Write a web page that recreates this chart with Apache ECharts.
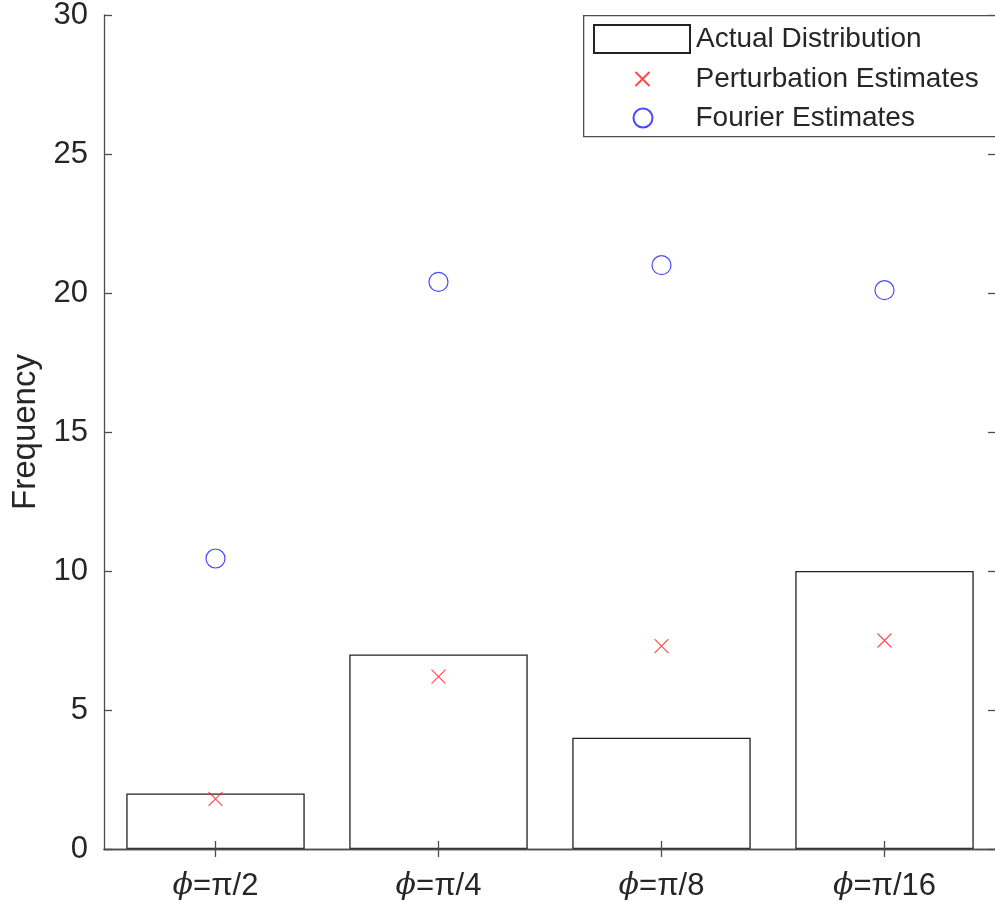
<!DOCTYPE html>
<html>
<head>
<meta charset="utf-8">
<script src="https://cdn.jsdelivr.net/npm/echarts@6/dist/echarts.min.js"></script>
<style>html,body{margin:0;padding:0;background:#fff}#c{width:995px;height:909px}</style>
</head>
<body>
<div id="c"></div>
<script>
var categories = ['π/2', 'π/4', 'π/8', 'π/16'];
var actualDistribution = [2, 7, 4, 10];
var perturbationEstimates = [1.8, 6.2, 7.3, 7.5];
var fourierEstimates = [10.45, 20.4, 21.0, 20.1];
var yTicks = {min: 0, max: 30, interval: 5};

var FONT = '"Liberation Sans", Arial, Helvetica, sans-serif';
var AX = '#4d4d4d';
var TXT = '#262626';
var crossPath = 'path://M0,0L10,10M10,0L0,10';

var chart = echarts.init(document.getElementById('c'));
var option = {
  backgroundColor: '#fff',
  animation: false,
  textStyle: {fontFamily: FONT},
  grid: {left: 104, top: 15, width: 892, height: 834, containLabel: false, outerBoundsMode: 'none'},
  xAxis: [{
    type: 'category', data: categories, position: 'bottom', boundaryGap: true, z: 5,
    axisLine: {show: true, lineStyle: {color: AX, width: 1.3}},
    axisTick: {show: true, interval: 0, inside: false, length: -8, alignWithLabel: true, lineStyle: {color: AX, width: 1.3}},
    axisLabel: {
      margin: 22, color: TXT, fontSize: 31, fontFamily: FONT,
      formatter: function (v) { return '{p|ϕ}=' + v; },
      rich: {p: {fontStyle: 'italic', fontFamily: '"DejaVu Serif", serif', fontSize: 30, color: TXT}}
    },
    splitLine: {show: false}
  }, {
    type: 'category', data: categories, position: 'top', boundaryGap: true, z: 5,
    axisLine: {show: true, lineStyle: {color: AX, width: 1.3}},
    axisTick: {show: true, interval: 0, inside: false, length: -8, alignWithLabel: true, lineStyle: {color: AX, width: 1.3}},
    axisLabel: {show: false}, splitLine: {show: false}
  }],
  yAxis: [{
    type: 'value', min: yTicks.min, max: yTicks.max, interval: yTicks.interval, position: 'left',
    name: 'Frequency', nameLocation: 'middle', nameGap: 61,
    nameTextStyle: {fontSize: 33, color: TXT, fontFamily: FONT},
    axisLine: {show: true, lineStyle: {color: AX, width: 1.3}},
    axisTick: {show: true, inside: true, length: 8, lineStyle: {color: AX, width: 1.3}},
    axisLabel: {margin: 16, color: TXT, fontSize: 31, fontFamily: FONT},
    splitLine: {show: false}
  }, {
    type: 'value', min: yTicks.min, max: yTicks.max, interval: yTicks.interval, position: 'right',
    axisLine: {show: true, lineStyle: {color: AX, width: 1.3}},
    axisTick: {show: true, inside: true, length: 8, lineStyle: {color: AX, width: 1.3}},
    axisLabel: {show: false}, splitLine: {show: false}
  }],
  legend: [{
    data: [{name: 'Actual Distribution', icon: 'rect'}], left: 593, top: 24, padding: 0, z: 10,
    itemWidth: 96, itemHeight: 28, selectedMode: false,
    textStyle: {fontSize: 28, color: TXT, fontFamily: FONT, padding: [0, 0, 0, 1]}
  }, {
    data: ['Perturbation Estimates'], left: 633, top: 65, padding: 0, z: 10,
    itemWidth: 14, itemHeight: 14, selectedMode: false,
    textStyle: {fontSize: 28, color: TXT, fontFamily: FONT, padding: [0, 0, 0, 41]}
  }, {
    data: ['Fourier Estimates'], left: 631, top: 104, padding: 0, z: 10,
    itemWidth: 19, itemHeight: 19, selectedMode: false,
    textStyle: {fontSize: 28, color: TXT, fontFamily: FONT, padding: [0, 0, 0, 38]}
  }],
  graphic: [{
    type: 'rect', left: 583, top: 15, z: 8,
    shape: {width: 420, height: 121},
    style: {fill: '#fff', stroke: AX, lineWidth: 1.3}
  }],
  series: [{
    name: 'Actual Distribution', type: 'bar', data: actualDistribution,
    barWidth: '80%', z: 2,
    itemStyle: {color: 'rgba(255,255,255,0)', borderColor: '#222', borderWidth: 1.3}
  }, {
    name: 'Perturbation Estimates', type: 'scatter', data: perturbationEstimates,
    symbol: crossPath, symbolSize: 14, z: 3,
    itemStyle: {color: 'none', borderColor: '#ff1a1a', borderWidth: 1.1}
  }, {
    name: 'Fourier Estimates', type: 'scatter', data: fourierEstimates,
    symbol: 'circle', symbolSize: 19, z: 3,
    itemStyle: {color: 'none', borderColor: '#1a1aff', borderWidth: 1.2}
  }]
};
chart.setOption(option);
</script>
</body>
</html>
